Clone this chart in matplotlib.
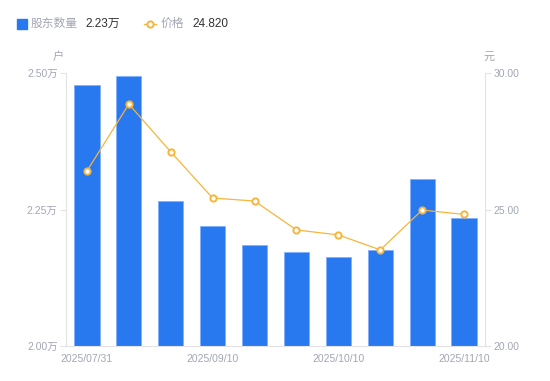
import matplotlib
matplotlib.use("Agg")
import matplotlib.pyplot as plt
from matplotlib.lines import Line2D
from matplotlib.patches import Rectangle

plt.rcParams["font.family"] = ["Liberation Sans", "Noto Sans CJK SC", "DejaVu Sans"]

# data
dates = ["2025/07/31", "2025/08/20", "2025/08/31", "2025/09/10", "2025/09/19",
         "2025/09/30", "2025/10/10", "2025/10/20", "2025/10/31", "2025/11/10"]
holders_wan = [2.478, 2.495, 2.266, 2.220, 2.185, 2.172, 2.163, 2.176, 2.306, 2.234]
price = [26.41, 28.86, 27.11, 25.42, 25.31, 24.25, 24.07, 23.52, 24.98, 24.82]
left_ticks = [2.00, 2.25, 2.50]
right_ticks = [20.0, 25.0, 30.0]

BLUE = "#2878f0"
ORANGE = "#f7b53a"
GREY = "#a3a6b4"
AXIS = "#e3e3e3"

fig = plt.figure(figsize=(5.5, 3.81), dpi=100)
ax = fig.add_axes([66 / 550, 1 - 346 / 381, (485 - 66) / 550, (346 - 73) / 381])
ax2 = ax.twinx()

x = list(range(len(dates)))
ax.bar(x, holders_wan, width=0.6, color=BLUE, edgecolor="#7fb0ff", linewidth=0.6, zorder=2)
ax.set_xlim(-0.5, len(dates) - 0.5)
ax.set_ylim(2.0, 2.5)
ax.set_yticks(left_ticks)
ax.set_yticklabels([f"{v:.2f}万" for v in left_ticks])
ax.set_xticks(x[::3])
ax.set_xticklabels(dates[::3])

ax2.plot(x, price, color=ORANGE, linewidth=0.9, marker="o", markersize=4.5,
         markerfacecolor="white", markeredgecolor=ORANGE, markeredgewidth=1.4, zorder=3)
ax2.set_ylim(20, 30)
ax2.set_yticks(right_ticks)
ax2.set_yticklabels([f"{v:.2f}" for v in right_ticks])

for a in (ax, ax2):
    for s in a.spines.values():
        s.set_visible(False)
    a.tick_params(colors=GREY, labelsize=7.5, length=4, width=0.8, color=AXIS)
ax.spines["left"].set_visible(True)
ax.spines["left"].set_color(AXIS)
ax.spines["bottom"].set_visible(True)
ax.spines["bottom"].set_color(AXIS)
ax2.spines["right"].set_visible(True)
ax2.spines["right"].set_color(AXIS)
ax.tick_params(axis="x", length=0, pad=6)
ax.tick_params(axis="y", pad=2)
ax2.tick_params(axis="y", pad=2)

# axis units
fig.text(58 / 550, 1 - 57 / 381, "户", color=GREY, fontsize=8, ha="center", va="center")
fig.text(489 / 550, 1 - 57 / 381, "元", color=GREY, fontsize=8, ha="center", va="center")

# top legend
ly = 1 - 24 / 381
fig.patches.append(Rectangle((17 / 550, 1 - 29 / 381), 10 / 550, 10 / 381,
                             transform=fig.transFigure, color=BLUE, figure=fig))
fig.text(31 / 550, ly, "股东数量", color=GREY, fontsize=8.5, va="center")
fig.text(85 / 550, ly, f"{holders_wan[-1]:.2f}万", color="#333333", fontsize=8.5, va="center")
fig.lines.append(Line2D([144 / 550, 156 / 550], [ly, ly], transform=fig.transFigure,
                        color=ORANGE, linewidth=1))
fig.lines.append(Line2D([150 / 550], [ly], transform=fig.transFigure, color=ORANGE,
                        marker="o", markersize=4.5, markerfacecolor="white",
                        markeredgecolor=ORANGE, markeredgewidth=1.4))
fig.text(161 / 550, ly, "价格", color=GREY, fontsize=8.5, va="center")
fig.text(192 / 550, ly, f"{price[-1]:.3f}", color="#333333", fontsize=8.5, va="center")

fig.savefig("out.png", dpi=100)
